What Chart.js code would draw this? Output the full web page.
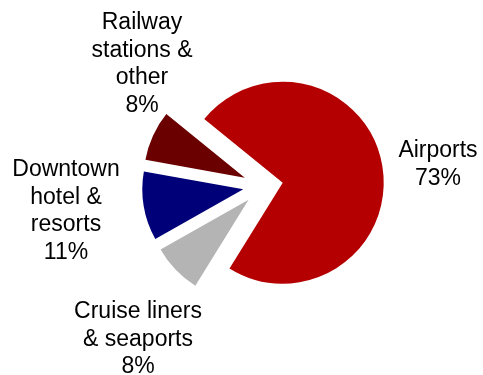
<!DOCTYPE html>
<html>
<head>
<meta charset="utf-8">
<script src="https://cdn.jsdelivr.net/npm/chart.js@4"></script>
<style>
  html, body { margin: 0; padding: 0; background: #fff; }
  #wrap { width: 483px; height: 375px; }
</style>
</head>
<body>
<div id="wrap"><canvas id="shareChart"></canvas></div>
<script>
// Share of sales by location type (%)
const categories = [
    ['Airports'],
    ['Cruise liners', '& seaports'],
    ['Downtown', 'hotel &', 'resorts'],
    ['Railway', 'stations &', 'other']
];
const shares = [73, 8, 11, 8];
const sliceColors = ['#b40000', '#b4b4b4', '#000078', '#6b0000'];

// how far each slice is pulled out of the pie
const explode = 20;
// label block anchors (first baseline, centred) relative to pie centre
const labelAnchors = [[175, -29], [-125, 132], [-197, -10], [-121, -157]];

const FONT = '23px "Liberation Sans", Arial, sans-serif';
const LINE_H = 27.5;

const explodePlugin = {
    id: 'explode',
    beforeDatasetDraw(chart, args) {
        const ctx = chart.ctx;
        args.meta.data.forEach(arc => {
            const mid = (arc.startAngle + arc.endAngle) / 2;
            ctx.save();
            ctx.translate(Math.cos(mid) * explode, Math.sin(mid) * explode);
            arc.draw(ctx);
            ctx.restore();
        });
        return false;
    }
};

const labelPlugin = {
    id: 'sliceLabels',
    afterDatasetsDraw(chart) {
        const ctx = chart.ctx;
        const meta = chart.getDatasetMeta(0);
        const cx = meta.data[0].x, cy = meta.data[0].y;
        ctx.save();
        ctx.font = FONT;
        ctx.fillStyle = '#000';
        ctx.textAlign = 'center';
        ctx.textBaseline = 'alphabetic';
        categories.forEach((lines, i) => {
            const [dx, dy] = labelAnchors[i];
            const all = lines.concat([shares[i] + '%']);
            all.forEach((t, j) => ctx.fillText(t, cx + dx, cy + dy + j * LINE_H));
        });
        ctx.restore();
    }
};

new Chart(document.getElementById('shareChart'), {
    type: 'pie',
    data: {
        labels: categories,
        datasets: [{
            data: shares,
            backgroundColor: sliceColors,
            borderWidth: 0,
            hoverOffset: 0
        }]
    },
    options: {
        responsive: true,
        maintainAspectRatio: false,
        animation: false,
        rotation: -51,
        radius: 101,
        layout: { padding: { left: 43, right: 0, top: 0, bottom: 3 } },
        plugins: {
            legend: { display: false },
            tooltip: { enabled: false }
        },
        events: []
    },
    plugins: [explodePlugin, labelPlugin]
});
</script>
</body>
</html>
